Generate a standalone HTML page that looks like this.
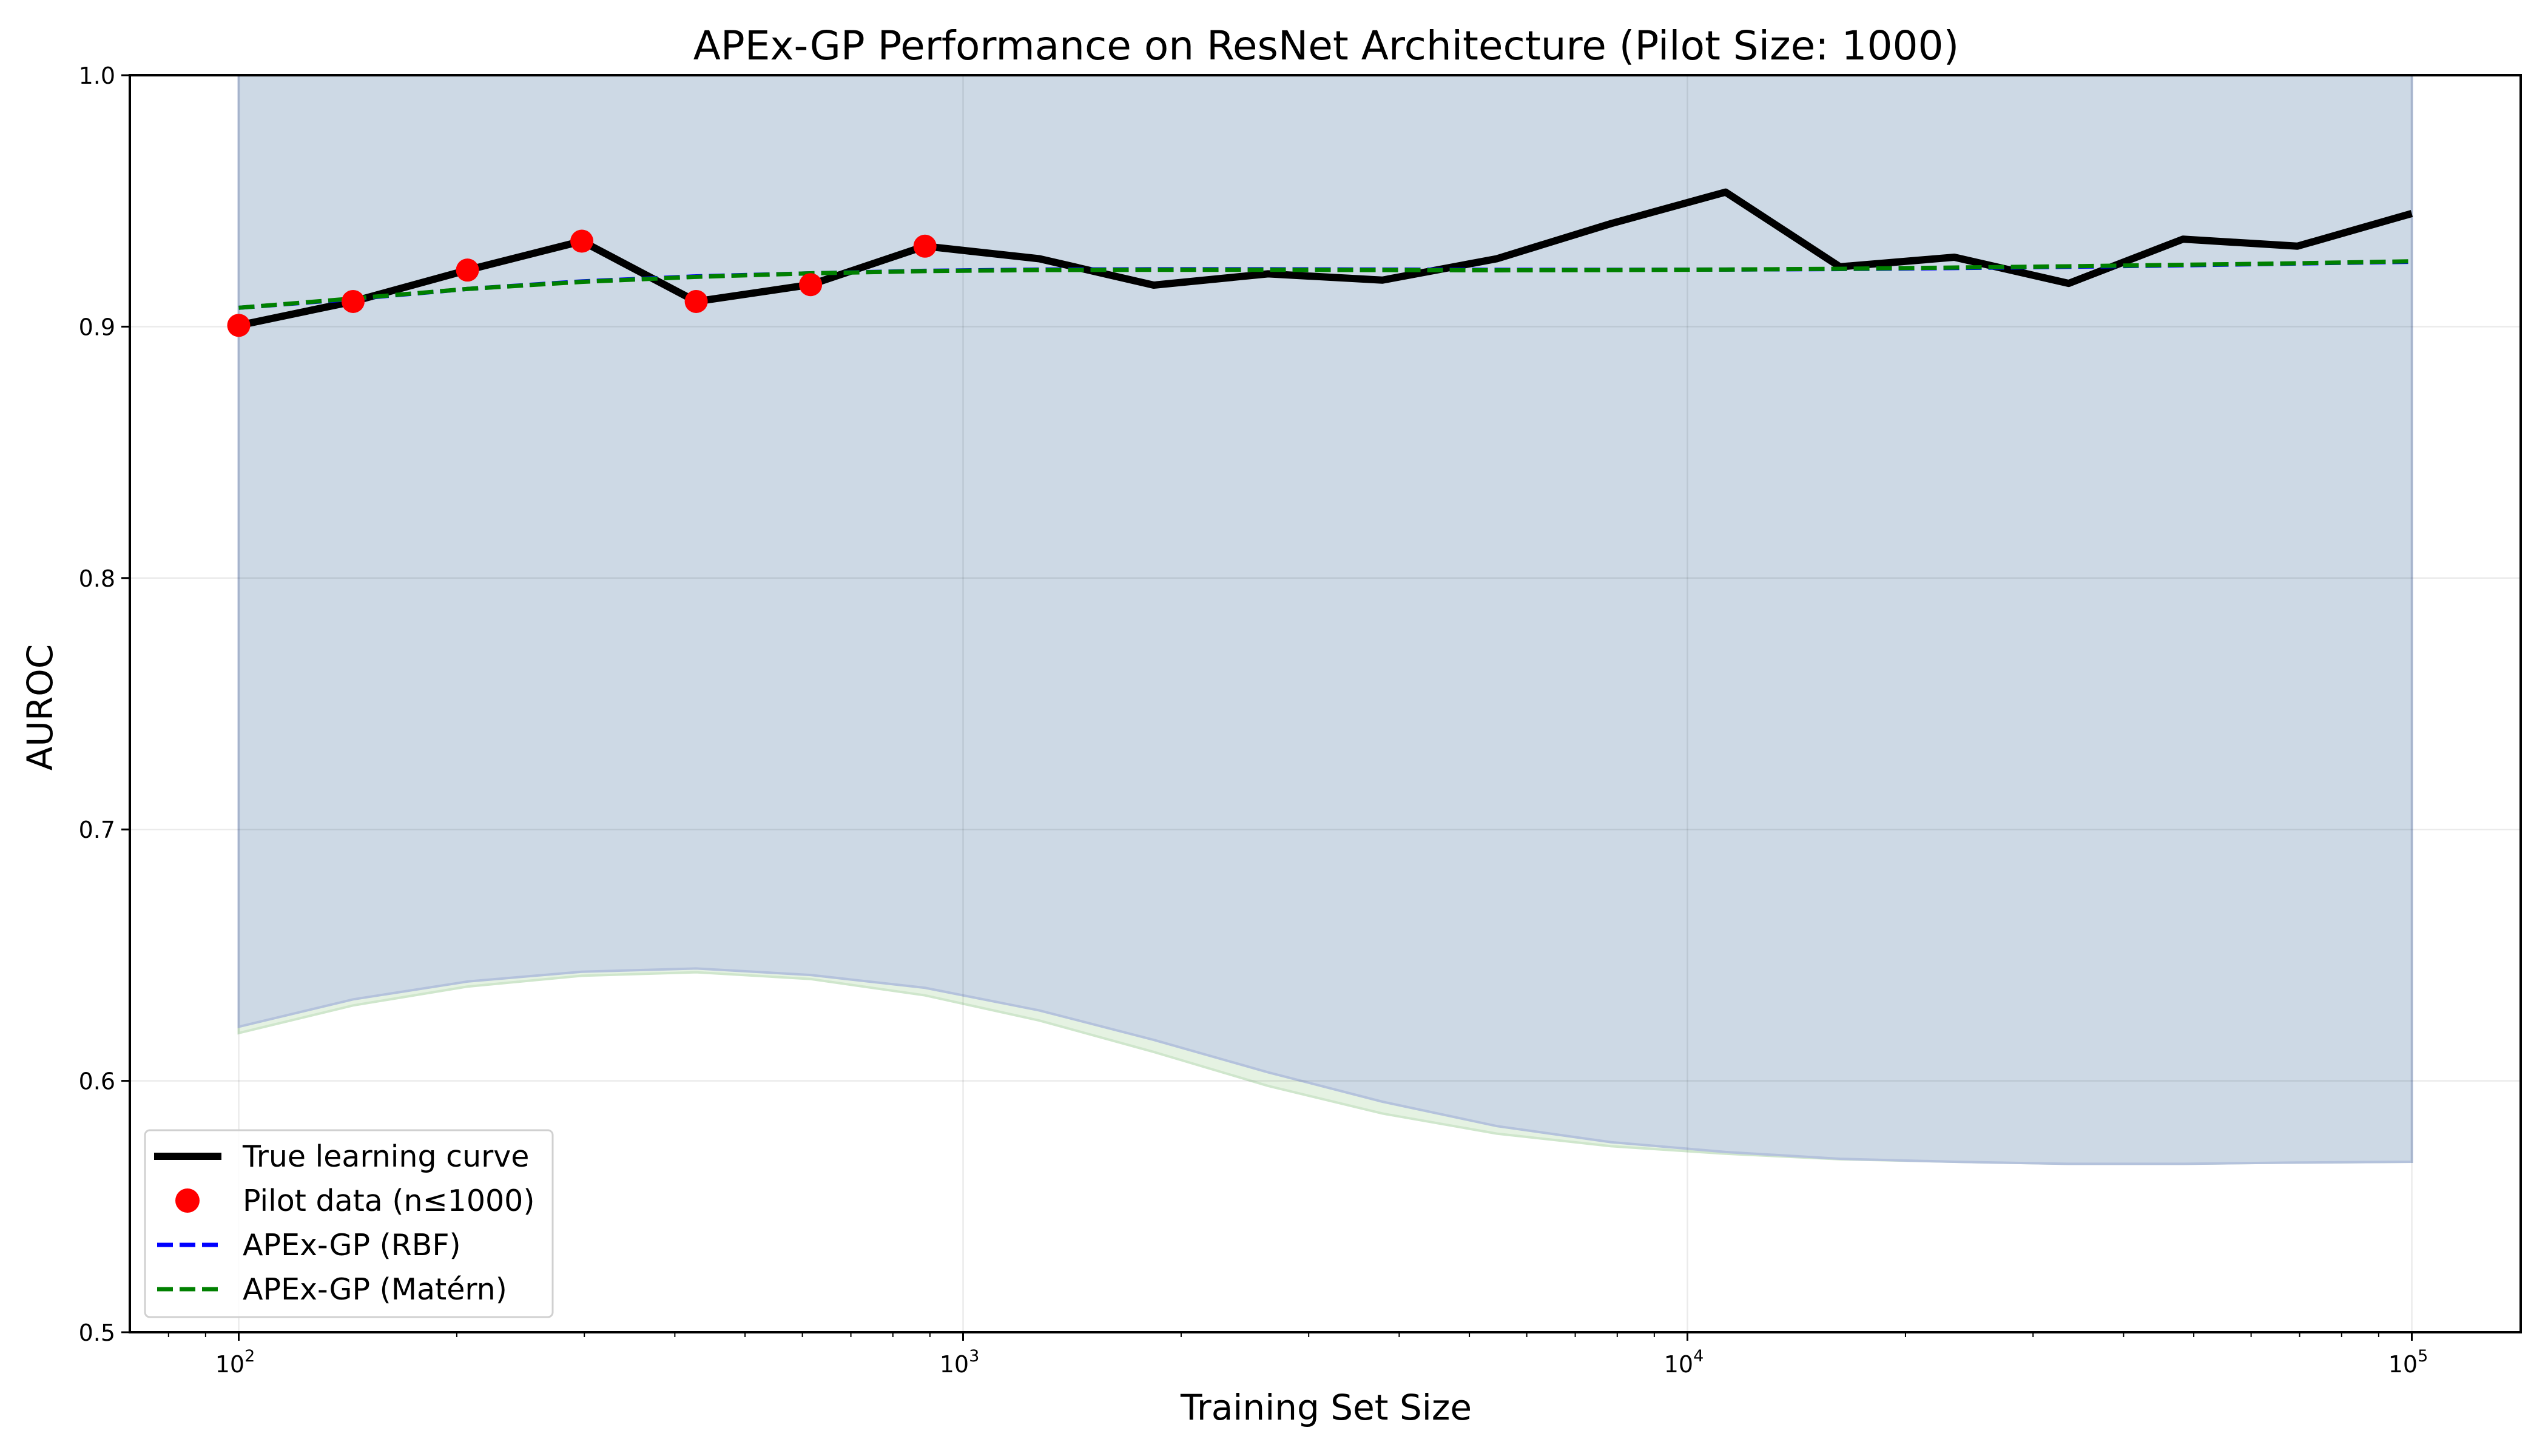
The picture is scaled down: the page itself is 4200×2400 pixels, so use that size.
<!DOCTYPE html>
<html><head><meta charset="utf-8"><style>
html,body{margin:0;padding:0;background:#fff;}
svg{display:block;font-family:"DejaVu Sans","Liberation Sans",sans-serif;}
</style></head><body>
<svg id="chart" width="4200" height="2400" viewBox="0 0 4200 2400" xmlns="http://www.w3.org/2000/svg">
<text x="2186" y="98" font-size="66" text-anchor="middle">APEx-GP Performance on ResNet Architecture (Pilot Size: 1000)</text>
<text x="2186" y="2340" font-size="58" text-anchor="middle">Training Set Size</text>
<text transform="translate(86,1166) rotate(-90)" font-size="58" text-anchor="middle">AUROC</text>
<g id="plot"></g>
</svg>
<script>
const xExp = Array.from({length:20},(_,i)=>2+3*i/19);
const trueCurve = [0.9005,0.910,0.9225,0.934,0.910,0.9167,0.932,0.927,0.9165,0.921,0.9185,0.927,0.941,0.9535,0.9238,0.9276,0.9172,0.9348,0.932,0.945];
const pilotCount = 7;
const rbfMean = [0.9075,0.9110,0.9150,0.9180,0.9200,0.9212,0.9222,0.9227,0.9228,0.9228,0.9227,0.9226,0.9226,0.9227,0.9229,0.9233,0.9238,0.9244,0.9251,0.9258];
const maternMean = [0.9075,0.9112,0.9150,0.9178,0.9198,0.9212,0.9221,0.9225,0.9226,0.9226,0.9225,0.9224,0.9225,0.9227,0.9230,0.9235,0.9240,0.9246,0.9252,0.9260];
const rbfLower = [0.6215,0.6324,0.6395,0.6434,0.6447,0.6421,0.637,0.628,0.6163,0.6034,0.5917,0.582,0.5756,0.5717,0.569,0.5678,0.567,0.567,0.5675,0.5678];
const maternLower = [0.619,0.630,0.6375,0.6418,0.6432,0.6405,0.634,0.624,0.6115,0.598,0.587,0.579,0.5740,0.5710,0.5688,0.5678,0.567,0.567,0.5675,0.5678];
const upperBound = [1.3,1.3,1.3,1.3,1.3,1.3,1.3,1.3,1.3,1.3,1.3,1.3,1.3,1.3,1.3,1.3,1.3,1.3,1.3,1.3];
const yTicks = [0.5,0.6,0.7,0.8,0.9,1.0];
const xTickExp = [2,3,4,5];

const L=214,R=4155,T=124,B=2196;
const X=e=>393.5+(e-2)*1194;
const Y=v=>B-(v-0.5)*(B-T)/0.5;
const NS="http://www.w3.org/2000/svg";
const g=document.getElementById('plot');
function mk(tag,attrs,parent){const el=document.createElementNS(NS,tag);for(const k in attrs)el.setAttribute(k,attrs[k]);(parent||g).appendChild(el);return el;}
const defs=mk('defs',{});
const cp=mk('clipPath',{id:'clip'},defs);mk('rect',{x:L,y:T,width:R-L,height:B-T},cp);
const clipG=mk('g',{'clip-path':'url(#clip)'});



function band(lower,fill,stroke,name){
  let d='M'+xExp.map((e,i)=>X(e)+','+Y(upperBound[i])).join(' L');
  for(let i=xExp.length-1;i>=0;i--)d+=' L'+X(xExp[i])+','+Y(lower[i]);
  d+=' Z';
  const p=mk('path',{d:d,fill:fill,stroke:stroke,'stroke-width':4},clipG);
  
  
}
band(maternLower,'#e5f2e2','#cfe6cc','matern-confidence-band');
band(rbfLower,'#cdd9e5','#b4c2dc','rbf-confidence-band');

// grid
xTickExp.forEach(e=>{const l=mk('line',{x1:X(e),x2:X(e),y1:T,y2:B,stroke:'#000','stroke-opacity':0.08,'stroke-width':2.5},clipG);

});
yTicks.forEach(v=>{const l=mk('line',{x1:L,x2:R,y1:Y(v),y2:Y(v),stroke:'#000','stroke-opacity':0.08,'stroke-width':2.5},clipG);

});

function line(vals,color,w,dash,name){
  const p=mk('polyline',{points:xExp.map((e,i)=>X(e)+','+Y(vals[i])).join(' '),fill:'none',stroke:color,'stroke-width':w,'stroke-linejoin':'round'},clipG);
  if(dash)p.setAttribute('stroke-dasharray',dash);
  
  
}
line(trueCurve,'#000',12,null,'true-learning-curve');
line(rbfMean,'#0000ff',7,'26 11','rbf-mean-line');
line(maternMean,'#008000',7,'26 11','matern-mean-line');
for(let i=0;i<pilotCount;i++){
  const c=mk('circle',{cx:X(xExp[i]),cy:Y(trueCurve[i]),r:19,fill:'#ff0000'},clipG);
  
  
}

// spines
const fr=mk('rect',{x:L,y:T,width:R-L,height:B-T,fill:'none',stroke:'#000','stroke-width':4});



// y ticks
yTicks.forEach(v=>{
  const t=mk('line',{x1:L-14,x2:L,y1:Y(v),y2:Y(v),stroke:'#000','stroke-width':3});
  
  
  const tx=mk('text',{x:L-24,y:Y(v)+14,'font-size':38,'text-anchor':'end'});
  tx.textContent=v.toFixed(1);
  
  
});
// x ticks
xTickExp.forEach(e=>{
  const t=mk('line',{x1:X(e),x2:X(e),y1:B,y2:B+14,stroke:'#000','stroke-width':3});
  
  
  const tx=mk('text',{x:X(e)-6,y:B+66,'font-size':38,'text-anchor':'middle'});
  tx.textContent='10';
  
  
  const sp=mk('tspan',{dy:-18,'font-size':27},tx);sp.textContent=String(e);
});
// minor ticks
for(let d=1;d<=5;d++){for(let m=1;m<=9;m++){
  const e=d+Math.log10(m);const x=X(e);
  if(m===1&&d>=2&&d<=5)continue;
  if(x<L||x>R)continue;
  const t=mk('line',{x1:x,x2:x,y1:B,y2:B+8,stroke:'#000','stroke-width':2});
  
  
}}

// legend
const lg=mk('g',{});


mk('rect',{x:239,y:1863,width:672,height:308,rx:8,fill:'#fff','fill-opacity':0.85,stroke:'#d0d0d0','stroke-width':3},lg);
const items=[['True learning curve','line'],['Pilot data (n≤1000)','dot'],['APEx-GP (RBF)','blue'],['APEx-GP (Matérn)','green']];
items.forEach((it,i)=>{
  const cy=1906+i*73;
  const e=mk('g',{},lg);
  
  
  if(it[1]==='line')mk('line',{x1:254,x2:365,y1:cy,y2:cy,stroke:'#000','stroke-width':12},e);
  else if(it[1]==='dot')mk('circle',{cx:309,cy:cy,r:20,fill:'#ff0000'},e);
  else mk('line',{x1:259,x2:360,y1:cy,y2:cy,stroke:it[1]==='blue'?'#0000ff':'#008000','stroke-width':7,'stroke-dasharray':'26 11'},e);
  const tx=mk('text',{x:400,y:cy+17,'font-size':49},e);tx.textContent=it[0];
});
</script>
</body></html>
